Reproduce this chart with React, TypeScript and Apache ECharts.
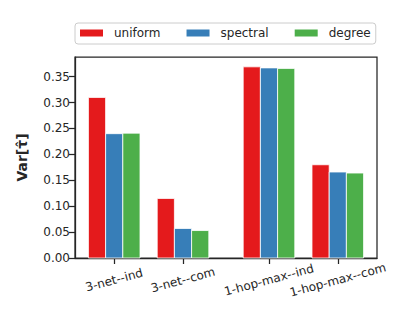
import React, { useEffect, useRef } from "react";
import * as echarts from "echarts";

const categories = ["3-net--ind", "3-net--com", "1-hop-max--ind", "1-hop-max--com"];
const categoryPositions = [0, 1, 2.25, 3.25];
const methods = ["uniform", "spectral", "degree"];
const colors = ["#e41a1c", "#377eb8", "#4daf4a"];
const uniformValues = [0.31, 0.115, 0.369, 0.18];
const spectralValues = [0.24, 0.057, 0.367, 0.166];
const degreeValues = [0.241, 0.053, 0.366, 0.164];
const yTicks = [0, 0.05, 0.1, 0.15, 0.2, 0.25, 0.3, 0.35];

const BAR = 0.25;
const FONT = "DejaVu Sans";
const INK = "#262626";

export default function App() {
  const ref = useRef<HTMLDivElement>(null);
  useEffect(() => {
    if (!ref.current) return;
    const chart = echarts.init(ref.current, null, { renderer: "svg" });
    const allValues = [uniformValues, spectralValues, degreeValues];
    const series = methods.map((m, si) => ({
      name: m,
      type: "custom",
      itemStyle: { color: colors[si] },
      data: categoryPositions.map((p, i) => [p + (si - 1) * BAR, allValues[si][i]]),
      encode: { x: 0, y: 1 },
      renderItem: (params: any, api: any) => {
        const x = api.value(0);
        const v = api.value(1);
        const tl = api.coord([x - BAR / 2, v]);
        const br = api.coord([x + BAR / 2, 0]);
        return {
          type: "rect",
          shape: { x: tl[0], y: tl[1], width: br[0] - tl[0], height: br[1] - tl[1] },
          style: { fill: colors[si], stroke: "#ffffff", lineWidth: 0.8 },
        };
      },
    }));
    chart.setOption({
      animation: false,
      textStyle: { fontFamily: FONT },
      legend: {
        data: methods.map((m, i) => ({ name: m, itemStyle: { color: colors[i] } })),
        left: 75,
        top: 23,
        itemWidth: 23,
        itemHeight: 7,
        itemGap: 26,
        icon: "rect",
        padding: [4, 5, 5, 5],
        borderColor: "#cccccc",
        borderWidth: 1,
        borderRadius: 3,
        textStyle: { fontFamily: FONT, fontSize: 12, color: INK, padding: [0, 0, 0, 6] },
      },
      grid: {
        left: 75,
        right: 25,
        top: 57,
        bottom: 63,
        show: true,
        borderColor: INK,
        borderWidth: 1.25,
        backgroundColor: "transparent",
      },
      xAxis: {
        type: "value",
        min: -0.57,
        max: 3.82,
        splitLine: { show: false },
        axisLine: { show: true, onZero: false, lineStyle: { color: INK, width: 1.25 } },
        axisTick: { show: true, length: 6, lineStyle: { color: INK, width: 1.25 }, customValues: categoryPositions },
        axisLabel: {
          customValues: categoryPositions,
          rotate: 15,
          align: "center",
          verticalAlign: "middle",
          margin: 22,
          fontFamily: FONT,
          fontSize: 12,
          color: INK,
          formatter: (v: number) => {
            const idx = categoryPositions.findIndex((p) => Math.abs(p - v) < 1e-6);
            return idx >= 0 ? categories[idx] : "";
          },
        },
      },
      yAxis: {
        type: "value",
        min: 0,
        max: 0.388,
        name: "Var[τ̂]",
        nameLocation: "middle",
        nameGap: 46,
        nameTextStyle: { fontFamily: FONT, fontSize: 14, fontWeight: "bold", color: INK },
        splitLine: { show: false },
        axisLine: { show: true, onZero: false, lineStyle: { color: INK, width: 1.25 } },
        axisTick: { show: true, length: 6, lineStyle: { color: INK, width: 1.25 }, customValues: yTicks },
        axisLabel: {
          customValues: yTicks,
          fontFamily: FONT,
          fontSize: 12,
          color: INK,
          margin: 5,
          formatter: (v: number) => v.toFixed(2),
        },
      },
      series,
    });
    return () => chart.dispose();
  }, []);
  return <div ref={ref} style={{ width: 402, height: 321, margin: -8 }} />;
}
